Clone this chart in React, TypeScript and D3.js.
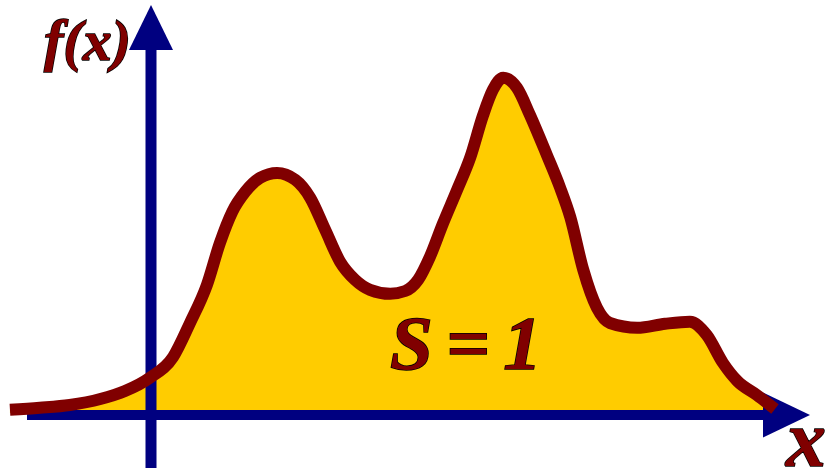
import React from "react";
import * as d3 from "d3";

// Density curve samples: x position (units) and f(x) value
const xValues = [
  -2.17, -1.71, -1.25, -0.78, -0.4, -0.02, 0.34, 0.6, 0.86, 1.06, 1.25, 1.45,
  1.68, 1.94, 2.22, 2.45, 2.68, 2.91, 3.14, 3.37, 3.68, 3.91, 4.11, 4.29, 4.49,
  4.71, 4.91, 5.11, 5.26, 5.42, 5.63, 5.83, 6.09, 6.29, 6.45, 6.65, 6.86, 7.06,
  7.48, 7.91, 8.29, 8.55, 8.8, 9.02, 9.32, 9.6,
];
const densityValues = [
  0.013, 0.018, 0.025, 0.04, 0.06, 0.093, 0.145, 0.23, 0.325, 0.43, 0.508,
  0.558, 0.593, 0.605, 0.588, 0.543, 0.463, 0.383, 0.338, 0.313, 0.303, 0.31,
  0.338, 0.395, 0.478, 0.563, 0.643, 0.75, 0.813, 0.843, 0.818, 0.75, 0.65,
  0.57, 0.495, 0.363, 0.268, 0.23, 0.218, 0.228, 0.233, 0.2, 0.13, 0.085, 0.05,
  0.015,
];

// Labels
const yAxisLabel = "f(x)";
const xAxisLabel = "x";
const areaLabel = "S = 1";

const WIDTH = 827;
const HEIGHT = 468;

const RED = "#800000";
const BLUE = "#000080";
const GOLD = "#FFCC00";
const FONT = "Liberation Serif, Times New Roman, serif";

export default function App() {
  const x = d3.scaleLinear().domain([0, 10]).range([151, 801]);
  const y = d3.scaleLinear().domain([0, 1]).range([415, 15]);

  const points: [number, number][] = xValues.map((v, i) => [v, densityValues[i]]);

  const curve = d3.curveMonotoneX;

  const area = d3
    .area<[number, number]>()
    .x((d) => x(d[0]))
    .y0(y(0) - 2)
    .y1((d) => y(d[1]))
    .curve(curve);

  const line = d3
    .line<[number, number]>()
    .x((d) => x(d[0]))
    .y((d) => y(d[1]))
    .curve(curve);

  const x0 = x(0);
  const yBase = y(0);

  const textProps = {
    fontFamily: FONT,
    fontStyle: "italic",
    fontWeight: "bold",
    fill: RED,
    stroke: "#000",
    strokeWidth: 1.5,
    paintOrder: "stroke",
  } as const;

  return (
    <svg
      width={WIDTH}
      height={HEIGHT}
      style={{ position: "absolute", left: 0, top: 0, background: "#fff" }}
    >
      {/* area under the density */}
      <path d={area(points) ?? ""} fill={GOLD} />

      {/* horizontal axis with arrow */}
      <line x1={27} x2={766} y1={yBase} y2={yBase} stroke={BLUE} strokeWidth={10} />
      <path
        d={`M${763},${yBase - 22.5}L${810},${yBase}L${763},${yBase + 22.5}Z`}
        fill={BLUE}
      />

      {/* vertical axis with arrow */}
      <line x1={x0} x2={x0} y1={468} y2={47} stroke={BLUE} strokeWidth={11} />
      <path d={`M${x0 - 22},${50}L${x0},${5}L${x0 + 22},${50}Z`} fill={BLUE} />

      {/* density curve */}
      <path
        d={line(points) ?? ""}
        fill="none"
        stroke={RED}
        strokeWidth={12}
        strokeLinejoin="round"
      />

      <text x={44} y={60} fontSize={58} {...textProps}>
        {yAxisLabel}
      </text>
      <text x={390} y={369} fontSize={77} wordSpacing={-6} {...textProps}>
        {areaLabel}
      </text>
      <text x={786} y={466} fontSize={80} {...textProps}>
        {xAxisLabel}
      </text>
    </svg>
  );
}
